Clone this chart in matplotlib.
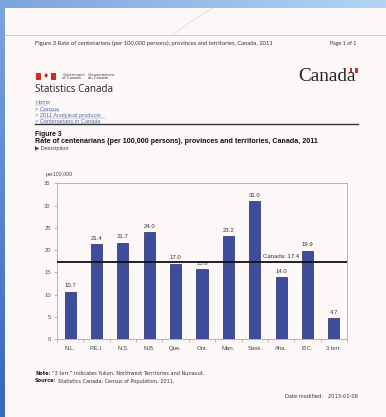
import numpy as np
import matplotlib
matplotlib.use("Agg")
import matplotlib.pyplot as plt
from matplotlib.patches import Rectangle
from matplotlib.colors import LinearSegmentedColormap

# ---- data -------------------------------------------------------------
regions = ["N.L.", "P.E.I.", "N.S.", "N.B.", "Que.", "Ont.", "Man.",
           "Sask.", "Alta.", "B.C.", "3\u2009terr."]
rates = [10.7, 21.4, 21.7, 24.0, 17.0, 15.8, 23.2, 31.0, 14.0, 19.9, 4.7]
canada_rate = 17.4
y_ticks = [0, 5, 10, 15, 20, 25, 30, 35]

W, H = 386, 417
fig = plt.figure(figsize=(W / 100, H / 100), dpi=100)


def px(x, y):
    return x / W, 1 - y / H


# ---- blue backdrop with the printed page on top -----------------------
bg = fig.add_axes([0, 0, 1, 1], zorder=-10)
bg.set_axis_off()
yy, xx = np.mgrid[0:1:200j, 0:1:200j]
grad = np.clip(0.6 * yy + 0.45 * (1 - xx), 0, 1)
cmap = LinearSegmentedColormap.from_list("bgblue", ["#b3d4f5", "#3a6cbf"])
bg.imshow(grad, cmap=cmap, extent=[0, 1, 0, 1], aspect="auto", origin="upper")
bg.set_xlim(0, 1)
bg.set_ylim(0, 1)
page_x, page_y = px(5, 8)
paper = "#fcf8f8"
bg.add_patch(Rectangle((page_x, 0), 1 - page_x, page_y, facecolor=paper,
                       edgecolor="none"))
# printer header separator and a faint crease
bg.plot([page_x, 1], [1 - 35 / H] * 2, color="#c8c4c4", lw=0.6)
bg.plot([173 / W, 190 / W, 213 / W], [1 - 35 / H, 1 - 22 / H, 1 - 8 / H],
        color="#dcdada", lw=0.6)

hdr = "Lato"
sans = "Liberation Sans"
verd = "DejaVu Sans"

# ---- printed page header ----------------------------------------------
fig.text(*px(35, 43), "Figure 3 Rate of centenarians (per 100,000 persons), "
         "provinces and territories, Canada, 2011", fontsize=4.2,
         family=hdr, color="#333333", va="center")
fig.text(*px(330, 43), "Page 1 of 1", fontsize=3.8, family=hdr,
         color="#333333", va="center")

# government signature: flag symbol
fl, ft, fr, fb = 36, 73.5, 56, 79.5
bg.add_patch(Rectangle((fl / W, 1 - fb / H), 5 / W, (fb - ft) / H,
                       facecolor="#d52b1e", edgecolor="none"))
bg.add_patch(Rectangle(((fr - 5.5) / W, 1 - fb / H), 5.5 / W, (fb - ft) / H,
                       facecolor="#d52b1e", edgecolor="none"))
fig.text(*px(45.8, 76.5), "\u2666", fontsize=5, color="#d52b1e", ha="center",
         va="center", family="DejaVu Sans")
for xg, lines in [(62.5, ("Government", "of Canada")),
                  (88, ("Gouvernement", "du Canada"))]:
    fig.text(*px(xg, 74.6), lines[0], fontsize=3.0, family=sans,
             color="#444444", va="center")
    fig.text(*px(xg, 78.4), lines[1], fontsize=3.0, family=sans,
             color="#444444", va="center")

# wordmark with its small flag over the final letter
fig.text(*px(298, 76.5), "Canada", fontsize=13.8, family="Liberation Serif",
         color="#222222", va="center")
bg.add_patch(Rectangle((349.5 / W, 1 - 72.5 / H), 8 / W, 4.2 / H,
                       facecolor="#d52b1e", edgecolor="none"))
bg.add_patch(Rectangle((352.2 / W, 1 - 72.5 / H), 2.6 / W, 4.2 / H,
                       facecolor=paper, edgecolor="none"))

fig.text(*px(35, 89), "Statistics Canada", fontsize=7.1, family="Open Sans",
         color="#222222", va="center")

links = ["Home", "> Census", "> 2011 Analytical products",
         "> Centenarians in Canada"]
link_ends = [47, 60, 105, 99]
for i, t in enumerate(links):
    yl = 103 + 6.1 * i
    fig.text(*px(35, yl), t, fontsize=4.1, family=sans,
             color="#5a6fa8", va="center")
    start = 35 if i == 0 else 40
    bg.plot([start / W, link_ends[i] / W], [1 - (yl + 2.3) / H] * 2,
            color="#7a86b8", lw=0.3)

bg.plot([35 / W, 358 / W], [1 - 124.5 / H] * 2, color="#333333", lw=1.0)

fig.text(*px(35, 134), "Figure 3", fontsize=4.9, family=sans,
         weight="bold", color="#111111", va="center")
fig.text(*px(35, 141.5), "Rate of centenarians (per 100,000 persons), "
         "provinces and territories, Canada, 2011", fontsize=5.1,
         family=sans, weight="bold", color="#111111", va="center")
fig.text(*px(35, 148.5), "\u25b6 Description", fontsize=4.0,
         family=[sans, "DejaVu Sans"], color="#444444", va="center")

# ---- the chart itself -------------------------------------------------
ax_l, ax_t, ax_r, ax_b = 57, 183.3, 347, 339.3
ax = fig.add_axes([ax_l / W, 1 - ax_b / H, (ax_r - ax_l) / W,
                   (ax_b - ax_t) / H])
ax.patch.set_alpha(0)
x = np.arange(len(regions))
ax.bar(x, rates, width=0.42, color="#3e4c9c", edgecolor="#2a2f5c",
       linewidth=0.5, zorder=2)
for xi, v in zip(x, rates):
    ax.text(xi, v + 0.7, f"{v:.1f}", ha="center", va="bottom",
            fontsize=4.3, family=sans, color="#333333")

ax.axhline(canada_rate, color="#111111", lw=1.3, zorder=3)
ax.text(7.3, canada_rate + 0.6, f"Canada: {canada_rate}", fontsize=4.3,
        family=sans, color="#333333", va="bottom", ha="left")

ax.set_xlim(-0.5, len(regions) - 0.5)
ax.set_ylim(0, 35)
ax.set_yticks(y_ticks)
ax.set_yticklabels([str(t) for t in y_ticks], fontsize=4.2, family=sans,
                   color="#555555")
ax.set_xticks(x)
ax.set_xticklabels(regions, fontsize=4.3, family=sans, color="#444444")
ax.set_xticks(np.arange(-0.5, len(regions), 1), minor=True)
ax.tick_params(axis="x", which="major", length=0, pad=4.5)
ax.tick_params(axis="x", which="minor", length=2, width=0.4,
               color="#888888")
ax.tick_params(axis="y", length=2.5, width=0.4, color="#888888", pad=2)
for side in ["top", "right", "left", "bottom"]:
    ax.spines[side].set_color("#aaaaaa")
    ax.spines[side].set_linewidth(0.6)

fig.text(*px(46, 174.5), "per100,000", fontsize=3.8, family=sans,
         color="#444444", va="center")

# ---- footer -----------------------------------------------------------
footer = [("Note:", "\u201c3 terr.\u201d indicates Yukon, Northwest "
           "Territories and Nunavut.", 373.5),
          ("Source:", "Statistics Canada, Census of Population, 2011.", 381)]
labels = [fig.text(*px(35, yl), lbl, fontsize=3.6, family=verd,
                   weight="bold", color="#222222", va="center")
          for lbl, _, yl in footer]
fig.canvas.draw()
renderer = fig.canvas.get_renderer()
inv = fig.transFigure.inverted()
for lbl_text, (_, body, yl) in zip(labels, footer):
    bb = lbl_text.get_window_extent(renderer)
    x_end = inv.transform((bb.x1, bb.y0))[0]
    fig.text(x_end + 1.5 / W, 1 - yl / H, body, fontsize=3.6,
             family=verd, color="#333333", va="center")

fig.text(*px(285, 397), "Date modified:   2013-01-08", fontsize=3.7,
         family=verd, color="#333333", va="center")

fig.savefig("out.png", dpi=100)
